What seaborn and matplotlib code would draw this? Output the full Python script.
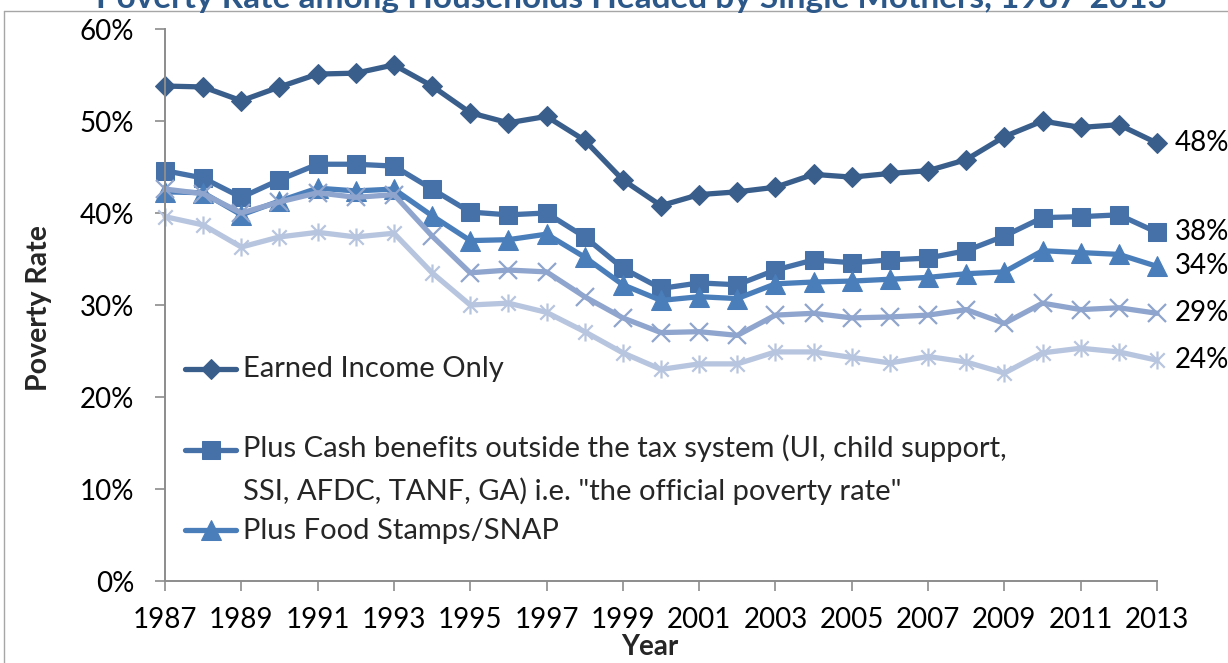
import matplotlib
matplotlib.use("Agg")
import matplotlib.pyplot as plt
import seaborn as sns
from matplotlib.path import Path
from matplotlib.lines import Line2D
from matplotlib.legend_handler import HandlerLine2D
from matplotlib.ticker import FuncFormatter, FixedLocator

# ---------------- data ----------------
years = list(range(1987, 2014))
earned_income_only = [53.8, 53.7, 52.2, 53.7, 55.1, 55.2, 56.1, 53.8, 50.9, 49.8, 50.5, 47.9, 43.6,
                      40.8, 42.0, 42.3, 42.8, 44.2, 43.9, 44.3, 44.6, 45.8, 48.3, 50.0, 49.3, 49.6, 47.6]
plus_cash_benefits = [44.6, 43.8, 41.7, 43.6, 45.3, 45.3, 45.1, 42.6, 40.1, 39.8, 40.0, 37.4, 34.0,
                      31.8, 32.4, 32.2, 33.8, 34.9, 34.6, 34.9, 35.1, 35.9, 37.5, 39.5, 39.6, 39.8, 37.9]
plus_food_stamps = [42.3, 42.2, 39.8, 41.3, 42.7, 42.4, 42.6, 39.7, 37.0, 37.1, 37.7, 35.2, 32.2,
                    30.5, 30.9, 30.7, 32.3, 32.5, 32.6, 32.8, 33.0, 33.4, 33.6, 35.9, 35.7, 35.5, 34.2]
plus_series_4 = [42.6, 42.1, 40.0, 41.2, 42.2, 41.7, 42.0, 37.5, 33.5, 33.8, 33.6, 30.9, 28.6,
                 27.0, 27.1, 26.7, 28.9, 29.1, 28.6, 28.7, 28.9, 29.5, 28.0, 30.2, 29.5, 29.7, 29.1]
plus_series_5 = [39.6, 38.7, 36.3, 37.4, 37.9, 37.4, 37.8, 33.5, 30.0, 30.2, 29.2, 27.1, 24.8,
                 23.0, 23.6, 23.6, 24.9, 24.9, 24.3, 23.7, 24.4, 23.8, 22.6, 24.8, 25.3, 24.9, 24.0]

legend_labels = ["Earned Income Only",
                 "Plus Cash benefits outside the tax system (UI, child support,\nSSI, AFDC, TANF, GA) i.e. \"the official poverty rate\"",
                 "Plus Food Stamps/SNAP"]
x_tick_labels = [str(y) for y in range(1987, 2014, 2)]
y_ticks = [0, 10, 20, 30, 40, 50, 60]
title = "Poverty Rate among Households Headed by Single Mothers, 1987-2013"

# ---------------- style ----------------
sns.set_theme(style="white")
plt.rcParams['font.family'] = ['Lato', 'DejaVu Sans']

W, H = 1228, 663
fig = plt.figure(figsize=(W / 100, H / 100), dpi=100)
ax = fig.add_axes([165 / W, 1 - 581 / H, (1157 - 165) / W, (581 - 29) / H])

asterisk = Path([(-1, -1), (1, 1), (-1, 1), (1, -1), (0, -1.25), (0, 1.25)],
                [Path.MOVETO, Path.LINETO, Path.MOVETO, Path.LINETO, Path.MOVETO, Path.LINETO])

series = [
    (earned_income_only, "#3A5E8C", "D", 10.5, {}),
    (plus_cash_benefits, "#4571A8", "s", 13.5, {}),
    (plus_food_stamps, "#4A7EBB", "^", 14, {}),
    (plus_series_4, "#8FA5CD", "x", 13, {"markeredgewidth": 1.6}),
    (plus_series_5, "#B8C5DF", asterisk, 13, {"markeredgewidth": 1.6}),
]
for vals, col, mk, ms, extra in series:
    sns.lineplot(x=years, y=vals, ax=ax, color=col, linewidth=3.8, marker=mk,
                 markersize=ms, markeredgecolor=col, markerfacecolor=col,
                 clip_on=False, legend=False, **extra)

lines = ax.get_lines()
for vals in [earned_income_only, plus_cash_benefits, plus_food_stamps, plus_series_4, plus_series_5]:
    ax.annotate(f"{vals[-1]:.0f}%", xy=(years[-1], vals[-1]), xytext=(13, 0),
                textcoords="offset points", va="center", ha="left", fontsize=20,
                color="black", annotation_clip=False)

ax.set_xlim(1987, 2013)
ax.set_ylim(0, 60)
ax.xaxis.set_major_locator(FixedLocator(list(range(1987, 2014, 2))))
ax.set_xticklabels(x_tick_labels)
ax.set_yticks(y_ticks)
ax.yaxis.set_major_formatter(FuncFormatter(lambda v, p: f"{v:.0f}%"))
ax.tick_params(axis="both", labelsize=20, colors="black", length=7, width=1.2,
               direction="out", left=True, bottom=True, color="#8C8C8C")
ax.tick_params(axis="x", pad=12)
ax.tick_params(axis="y", pad=15)
for s in ["top", "right"]:
    ax.spines[s].set_visible(False)
for s in ["left", "bottom"]:
    ax.spines[s].set_color("#8C8C8C")
    ax.spines[s].set_linewidth(1.4)

ax.set_xlabel("Year", fontsize=20, fontweight="bold")
ax.set_ylabel("Poverty Rate", fontsize=20.5, fontweight="bold")
ax.xaxis.set_label_coords((650 - 165) / 992, (581 - 634) / 552)
ax.yaxis.set_label_coords((52 - 165) / 992, (581 - 308) / 552)


class TopAlignedLine(HandlerLine2D):
    """Line handle aligned with the first line of a two-line label."""
    def create_artists(self, legend, orig_handle, xdescent, ydescent, width, height, fontsize, trans):
        return super().create_artists(legend, orig_handle, xdescent, ydescent - 29.5,
                                      width, height, fontsize, trans)


slot_labels = [lab if "\n" in lab else lab + "\n " for lab in legend_labels]
leg = ax.legend(lines[:3], slot_labels, loc="upper left",
                bbox_to_anchor=((185 - 165) / 992, (581 - 356) / 552),
                frameon=False, fontsize=21, handlelength=1.75, handletextpad=0.25,
                labelspacing=0.45, borderaxespad=0, borderpad=0,
                handler_map={Line2D: TopAlignedLine()})
for t in leg.get_texts():
    t.set_linespacing(1.65)

fig.text(631 / W, 1 - 8 / H, title, ha="center", va="baseline", fontsize=24,
         fontweight="bold", color="#2C5889")

fig.add_artist(Line2D([4 / W, 4 / W], [0, 1 - 11 / H], transform=fig.transFigure,
                      color="#A6A6A6", lw=1))
fig.add_artist(Line2D([4 / W, 1], [1 - 11 / H, 1 - 11 / H], transform=fig.transFigure,
                      color="#A6A6A6", lw=1))

fig.savefig("out.png", dpi=100)
